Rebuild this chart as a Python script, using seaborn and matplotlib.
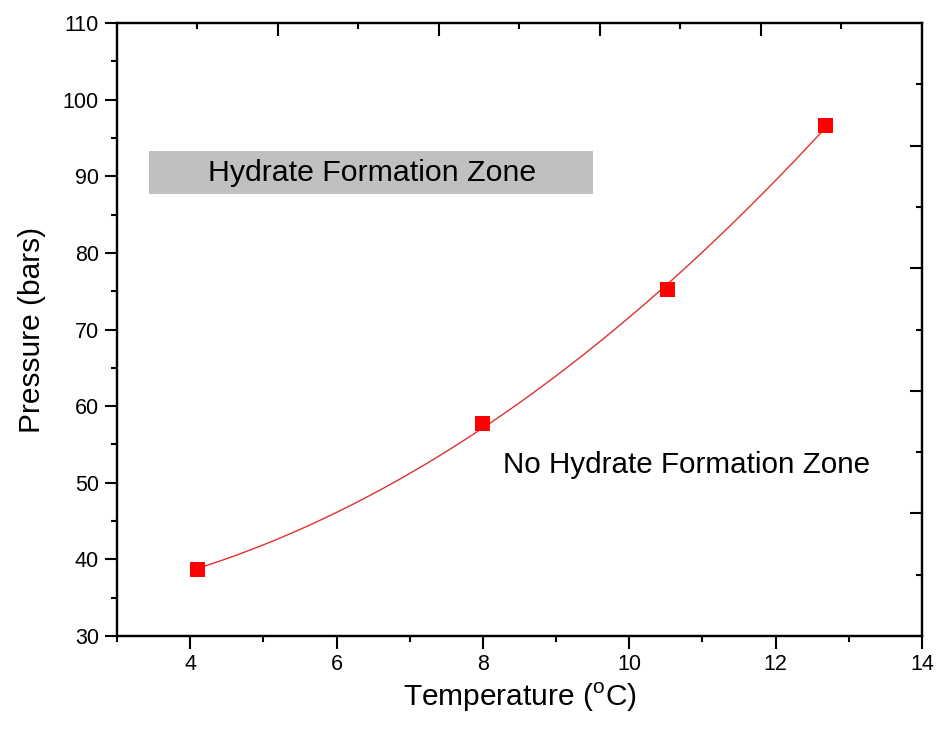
import matplotlib
matplotlib.use("Agg")
import matplotlib.pyplot as plt
from matplotlib.markers import TICKDOWN
import seaborn as sns
import numpy as np
import pandas as pd
from matplotlib.ticker import MultipleLocator, FixedLocator, NullFormatter
from matplotlib.patches import Rectangle

temperature = [4.1, 8.0, 10.52, 12.68]
pressure = [38.7, 57.7, 75.2, 96.6]

sns.set_theme(style="white")
plt.rcParams['font.family'] = ['Liberation Sans', 'DejaVu Sans']
plt.rcParams['axes.edgecolor'] = 'black'
plt.rcParams['axes.linewidth'] = 1.6
plt.rcParams['xtick.color'] = 'black'
plt.rcParams['ytick.color'] = 'black'

df = pd.DataFrame({"T": temperature, "P": pressure})

fig = plt.figure(figsize=(9.38, 7.38), dpi=100)
ax = fig.add_axes([0.1247, 0.1382, 0.8582, 0.8306])

sns.regplot(data=df, x="T", y="P", order=2, ci=None, truncate=True, ax=ax,
            scatter=False, line_kws={"color": "#e03030", "lw": 1.0})
sns.scatterplot(data=df, x="T", y="P", marker="s", s=115, color="#ff0000",
                edgecolor="none", ax=ax, zorder=5)

ax.add_patch(Rectangle((3.44, 87.7), 6.07, 5.6, facecolor="#c0c0c0",
                       edgecolor="none", zorder=1))
ax.text(6.48, 90.4, "Hydrate Formation Zone", fontsize=21.8, ha="center",
        va="center", color="black", zorder=2)
ax.text(8.27, 52.3, "No Hydrate Formation Zone", fontsize=21.3, ha="left",
        va="center", color="black")

# inward ticks on top edge (ten equal divisions of the x range),
# drawn as tick markers pinned to the top of the axes
top_ticks = np.linspace(3, 14, 11)[1:-1]
right_ticks = np.linspace(30, 110, 11)[1:-1]
xtr = ax.get_xaxis_transform()
ax.plot(top_ticks[1::2], np.ones(len(top_ticks[1::2])), transform=xtr,
        ls="none", marker=TICKDOWN, markersize=9, mew=1.5, color="black",
        clip_on=False, zorder=6)
ax.plot(top_ticks[0::2], np.ones(len(top_ticks[0::2])), transform=xtr,
        ls="none", marker=TICKDOWN, markersize=4.5, mew=1.5, color="black",
        clip_on=False, zorder=6)

ax.set_xlim(3, 14)
ax.set_ylim(30, 110)
ax.set_xticks([4, 6, 8, 10, 12, 14])
ax.xaxis.set_minor_locator(MultipleLocator(1))
ax.yaxis.set_major_locator(MultipleLocator(10))
ax.yaxis.set_minor_locator(MultipleLocator(5))

ax.tick_params(which="both", bottom=True, left=True, top=False, right=False,
               direction="out", color="black", width=1.5, labelsize=15.5,
               labelcolor="black", pad=4)
ax.tick_params(which="major", length=9)
ax.tick_params(which="minor", length=4.5)

ax.set_xlabel("Temperature ($^{\\mathregular{o}}$C)", fontsize=21.5,
              labelpad=4, color="black")
ax.set_ylabel("Pressure (bars)", fontsize=21.5, labelpad=12, color="black")

# inward ticks on the right edge (ten equal divisions of the y range)
axr = ax.twinx()
axr.set_ylim(ax.get_ylim())
axr.yaxis.set_major_locator(FixedLocator(right_ticks[1::2]))
axr.yaxis.set_minor_locator(FixedLocator(right_ticks[0::2]))
axr.yaxis.set_major_formatter(NullFormatter())
axr.tick_params(which="both", right=True, left=False, direction="in",
                width=1.5, color="black", labelright=False)
axr.tick_params(which="major", length=9)
axr.tick_params(which="minor", length=4.5)

fig.savefig("out.png", dpi=100)
